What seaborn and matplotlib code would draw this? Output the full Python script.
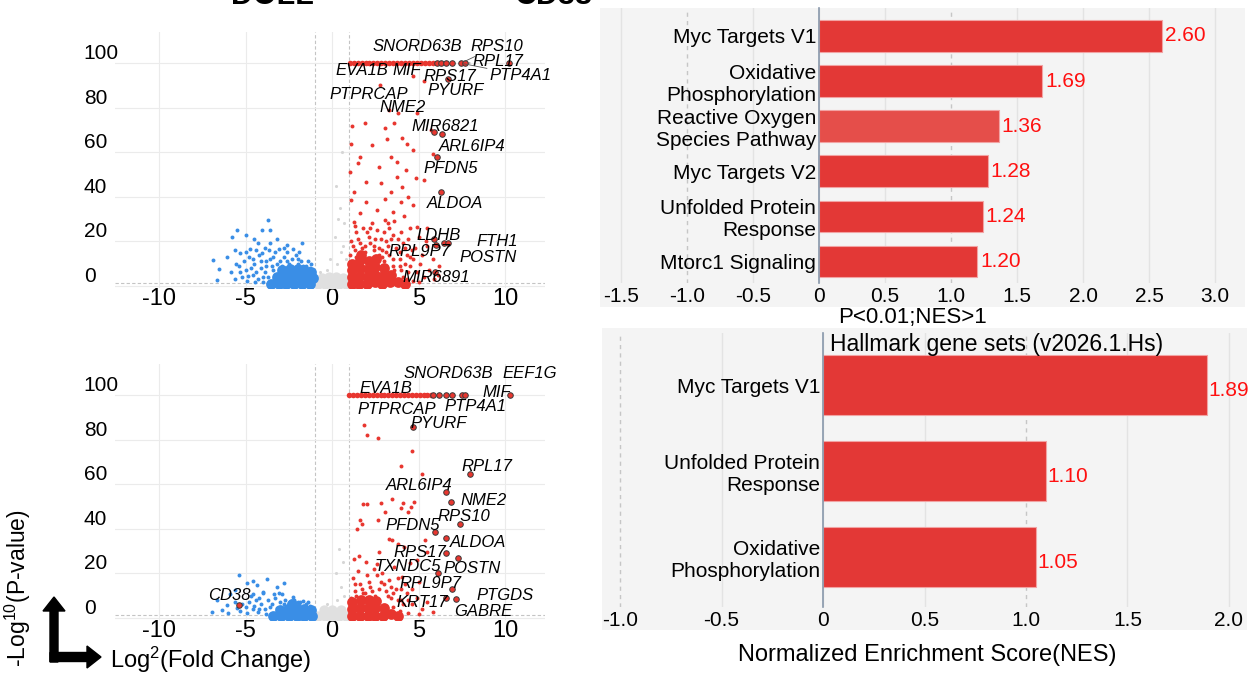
import numpy as np
import pandas as pd
import seaborn as sns
import matplotlib.pyplot as plt
from matplotlib.patches import Rectangle, FancyArrow

W, H = 1248, 675

# ---------------- volcano, upper panel ----------------
t_line_x = [1.02, 1.24, 1.47, 1.7, 1.93, 2.15, 2.38, 2.6, 2.84, 3.06, 3.3, 3.52, 3.75, 3.98,
            4.2, 4.44, 4.66, 4.9, 5.12, 5.35, 5.58, 5.8]
t_line_y = [100, 100, 100, 100, 100, 100, 100, 100, 100, 100, 100, 100, 100, 100,
            100, 100, 100, 100, 100, 100, 100, 100]

t_upcore_x = [1.15, 1.15, 1.15, 1.15, 1.55, 1.6, 1.6, 1.6, 1.65, 2.0, 2.05, 2.05, 2.1, 2.45,
              2.5, 2.5, 2.55, 2.9, 2.95, 3.0, 3.35, 3.4, 3.8, 4.2]
t_upcore_y = [1.0, 4.0, 7.0, 10.0, 1.0, 4.5, 8.0, 11.5, 14.0, 1.0, 4.0, 7.5, 11.0, 1.5,
              5.0, 8.5, 12.0, 1.0, 4.5, 8.0, 1.5, 5.0, 1.5, 1.0]

t_up_x = [2.77, 4.7, 5.3, 4.9, 3.8, 3.27, 1.16, 1.9, 3.04, 3.6, 5.7, 1.08, 2.28, 3.15, 4.05,
          4.34, 4.7, 5.8, 1.6, 3.4, 1.49, 2.7, 4.27, 3.73, 1.04, 1.93, 2.82, 4.82, 5.3, 3.73,
          1.26, 3.38, 4.05, 4.38, 1.07, 1.96, 3.04, 3.96, 4.7, 1.6, 2.6, 3.5, 4.15, 1.26, 3.04,
          4.93, 5.5,
          1.3, 1.6, 1.9, 2.1, 2.4, 2.6, 2.9, 3.1, 3.3, 3.5, 3.7, 3.9, 4.1, 4.3, 4.5, 4.7, 4.9,
          5.1, 5.3, 5.6, 5.9, 6.2, 1.1, 1.4, 1.8, 2.3, 2.8, 3.3, 3.6, 4.0, 4.4, 4.8, 5.2, 5.5,
          5.8, 6.1, 1.05, 2.0, 2.5, 3.0, 3.5, 4.0, 4.3, 4.7, 5.0, 3.8, 3.3, 2.9,
          1.2, 1.5, 1.7, 2.0, 2.2, 2.5, 2.7, 3.0, 3.2, 3.4, 3.8, 4.2, 4.6, 1.4, 1.9, 2.4, 2.7,
          3.1, 3.5, 3.9, 4.2, 4.5, 3.6, 3.9, 4.1, 4.4, 1.3, 2.2, 3.2, 4.5, 5.0, 5.4]
t_up_y = [90.1, 94.2, 91.9, 77.5, 77.5, 78.9, 71.7, 73.0, 70.8, 73.0, 69.9, 63.6, 63.1, 65.8,
          66.3, 63.6, 60.9, 59.1, 57.8, 57.8, 55.0, 53.3, 51.9, 55.5, 51.0, 46.5, 46.1, 48.3,
          47.4, 48.8, 42.0, 42.0, 44.3, 39.8, 38.4, 37.5, 38.9, 37.5, 36.2, 32.6, 33.9, 33.0,
          31.2, 28.5, 29.4, 26.3, 25.8,
          16, 19, 15, 22, 18, 25, 16, 20, 14, 23, 17, 12, 19, 14, 9, 12, 6, 10, 4, 7, 3, 9,
          20, 24, 26, 28, 21, 26, 29, 24, 21, 17, 14, 18, 12, 5, 14, 12, 13, 11, 9, 7, 3, 2,
          1.5, 2, 5, 13,
          18, 21, 17, 24, 19, 21, 17, 24, 18, 21, 21, 17, 16, 13, 18, 16, 14,
          15, 12, 15, 10, 13, 7, 9, 4, 6, 27, 26, 28, 26, 22, 20]

t_dncore_x = [-3.55, -3.1, -2.65, -2.2, -1.75, -1.3, -1.1, -3.2, -2.75, -2.3, -1.85, -1.4,
              -2.9, -2.45, -2.0, -1.6, -1.2]
t_dncore_y = [1.0, 1.0, 1.0, 1.0, 1.0, 1.0, 3.5, 4.0, 4.5, 4.5, 4.5, 4.0, 7.0, 7.5, 7.5, 7.0, 6.0]

t_dn_x = [-3.72, -5.5, -4.05, -3.6, -5.81, -4.97, -4.52, -3.18, -2.63, -1.73, -6.87, -6.53,
          -6.07, -5.63, -5.3, -4.75, -4.08, -3.64, -3.07, -2.29, -6.65, -5.85, -5.58,
          -4.9, -4.6, -4.3, -4.1, -3.9, -3.8, -4.5, -5.0, -5.2, -4.8, -4.2, -3.5, -3.4, -3.0,
          -2.8, -2.5, -2.3, -2.0, -1.8, -1.5, -1.3, -3.7, -4.0, -3.3, -2.6, -2.1, -5.4, -5.1,
          -4.4, -3.9,
          -5.6, -5.3, -4.7, -4.4, -4.0, -3.8, -3.6, -3.2, -2.9, -2.6, -2.4, -2.0, -1.7, -1.4,
          -1.2, -4.6, -4.1, -3.4, -5.0, -2.8, -3.6, -4.3, -1.9, -4.85, -4.45]
t_dn_y = [29.7, 25.2, 24.9, 24.9, 21.9, 22.7, 21.2, 21.2, 18.2, 19.2, 11.8, 7.7, 12.9, 16.0,
          14.5, 16.7, 14.5, 16.0, 16.7, 16.7, 2.5, 6.2, 10.0,
          2, 5, 3, 8, 6, 11, 10, 7, 4, 13, 14, 9, 13, 11, 13, 10, 12, 10, 11, 9, 8, 4, 1.5,
          15, 15, 14, 9, 11, 16, 17,
          3, 6, 8, 6, 4, 9, 12, 10, 9, 11, 8, 12, 9, 11, 10, 12, 11, 7, 15, 17, 19, 19, 15,
          4.5, 1.5]

t_nscore_x = [-0.8, -0.4, 0.0, 0.4, 0.8, -0.6, -0.2, 0.2, 0.6]
t_nscore_y = [1.0, 1.0, 1.0, 1.0, 1.0, 3.5, 4.0, 4.0, 3.5]
t_ns_x = [0.3, 0.5, 0.15, 0.7, 0.45, 0.6, -0.3, -0.7, 0.8, 0.2, 0.55, -0.1, 0.35]
t_ns_y = [10, 15, 22, 28, 35, 18, 7, 6, 12, 45, 60, 12, 30]

t_hl_x = [6.05, 6.3, 6.6, 6.9, 7.44, 7.69, 10.2, 6.7, 5.86, 6.34, 6.05, 6.3, 6.47, 6.72,
          6.0, 5.97, 5.86]
t_hl_y = [100, 100, 100, 100, 100, 100, 100, 92.7, 69.0, 68.4, 57.9, 42.2, 19.2, 19.2,
          18.2, 6.2, 21.2]

t_genes = ["SNORD63B", "RPS10", "RPL17", "EVA1B", "MIF", "RPS17", "PTP4A1", "PYURF",
           "PTPRCAP", "NME2", "MIR6821", "ARL6IP4", "PFDN5", "ALDOA", "LDHB", "FTH1",
           "RPL9P7", "POSTN", "MIR6891"]
t_gene_x = [4.9, 9.5, 9.6, 1.71, 4.3, 6.8, 10.9, 7.13, 2.14, 4.05, 6.53, 8.07, 6.86, 7.09,
            6.18, 9.54, 5.07, 9.04, 6.03]
t_gene_y = [107.6, 107.6, 100.6, 96.5, 96.5, 93.8, 94.6, 87.9, 86.1, 80.1, 71.7, 62.7, 52.5,
            36.9, 22.7, 20.1, 15.5, 12.9, 3.7]
# (gene index, highlighted point index)
t_leaders = [(1, 4), (2, 5), (6, 4)]

# ---------------- volcano, lower panel ----------------
b_line_x = [1.0, 1.22, 1.45, 1.68, 1.9, 2.12, 2.35, 2.58, 2.8, 3.02, 3.25, 3.48, 3.7, 3.93,
            4.15, 4.38, 4.6, 4.83, 5.05, 5.28, 5.5, 5.72]
b_line_y = [100, 100, 100, 100, 100, 100, 100, 100, 100, 100, 100, 100, 100, 100,
            100, 100, 100, 100, 100, 100, 100, 100]

b_upcore_x = [1.15, 1.15, 1.15, 1.6, 1.6, 1.65, 2.05, 2.05, 2.1, 2.5, 2.5, 2.55, 2.95, 3.0,
              3.4, 3.8]
b_upcore_y = [1.0, 4.0, 7.0, 1.0, 4.5, 8.0, 1.0, 4.5, 8.0, 1.0, 4.5, 7.5, 1.0, 4.5, 1.5, 1.0]

b_up_x = [1.82, 2.04, 2.64, 4.64, 3.98, 5.2, 1.78, 2.04, 2.82, 3.44, 4.07, 4.71, 3.96, 4.55,
          4.38, 3.04, 1.6, 1.44, 1.7, 2.64, 3.27, 3.44, 3.82, 4.15, 5.38, 4.93, 1.26, 1.53,
          1.93, 2.7, 4.49, 5.49, 4.05,
          1.3, 1.6, 1.9, 2.2, 2.5, 2.8, 3.1, 3.4, 3.7, 4.0, 4.3, 4.6, 4.9, 5.2, 5.5, 5.8,
          1.2, 1.5, 2.0, 2.4, 2.9, 3.3, 3.8, 4.2, 4.6, 5.0, 3.6, 2.6, 1.1, 3.9, 4.4, 5.0, 3.5,
          1.3, 1.7, 2.1, 2.3, 2.7, 3.0, 3.2, 3.5, 3.8, 4.1, 4.4, 4.0, 1.4, 1.8, 2.6, 3.4]
b_up_y = [86.8, 82.0, 80.8, 75.0, 68.1, 64.8, 51.3, 51.0, 51.6, 53.3, 51.6, 52.0, 49.1, 49.8,
          47.6, 47.6, 43.8, 40.1, 42.3, 44.1, 35.6, 34.8, 33.3, 31.8, 35.1, 25.8, 26.6, 27.6,
          25.1, 29.6, 24.4, 29.6, 18.3,
          12, 15, 11, 14, 10, 16, 12, 9, 13, 8, 11, 6, 9, 4, 7, 2.5,
          18, 21, 19, 22, 20, 17, 18, 15, 13, 16, 23, 24, 9, 3, 2, 1.5, 5,
          15, 13, 16, 12, 13, 15, 10, 11, 8, 6, 8, 13, 10, 11, 19, 14]

b_dncore_x = [-3.4, -2.95, -2.5, -2.05, -1.6, -1.15, -3.0, -2.55, -2.1, -1.65, -1.2, -2.3]
b_dncore_y = [1.0, 1.0, 1.0, 1.0, 1.0, 1.0, 3.5, 4.0, 4.0, 4.0, 3.5, 6.0]

b_dn_x = [-5.36, -4.58, -4.93, -4.35, -3.77, -3.2, -2.81, -5.6, -5.9, -6.66, -6.95, -6.38,
          -6.09, -4.55, -3.97, -3.39, -2.24, -1.85,
          -4.9, -4.6, -4.3, -4.1, -3.9, -3.7, -4.4, -5.0, -5.3, -3.5, -3.3, -3.0, -2.7, -2.5,
          -2.2, -1.9, -1.5, -1.3, -3.8, -4.7, -4.0, -2.9, -5.6, -6.0,
          -5.2, -4.8, -4.5, -4.2, -3.6, -3.2, -2.8, -2.4, -2.0, -1.7, -3.1, -4.2, -5.5, -1.4]
b_dn_y = [19.1, 16.5, 15.4, 14.6, 17.6, 13.8, 15.4, 12.4, 10.9, 7.9, 2.6, 3.4, 5.6, 10.9,
          11.6, 10.9, 9.3, 7.1,
          2, 4, 2.5, 6, 4, 8, 8, 5, 3, 6, 9, 7, 8, 6.5, 8, 6, 6, 5.5, 1.5, 10, 11, 10.5, 7, 2,
          6, 7, 5.5, 4, 5, 4.5, 6, 7.5, 7, 7.5, 11, 9, 4.5, 7]

b_nscore_x = [-0.8, -0.4, 0.0, 0.4, 0.8, -0.5, 0.0, 0.5]
b_nscore_y = [1.0, 1.0, 1.0, 1.0, 1.0, 3.5, 3.5, 3.5]
b_ns_x = [0.3, 0.5, 0.2, 0.6, 0.4, -0.3, 0.7]
b_ns_y = [8, 14, 20, 25, 31, 6, 10]

b_hl_x = [5.8, 6.2, 6.6, 6.9, 7.5, 7.7, 10.3, 4.7, 7.95, 6.55, 6.86, 7.37, 5.97, 6.6, 6.55,
          7.3, 6.1, 6.95, 7.17, 6.6, -5.4]
b_hl_y = [100, 100, 100, 100, 100, 100, 100, 85.8, 64.8, 56.5, 51.8, 42.0, 38.6, 36.0, 28.9,
          27.0, 20.1, 13.1, 8.6, 9.0, 5.6]

b_genes = ["SNORD63B", "EEF1G", "EVA1B", "MIF", "PTPRCAP", "PTP4A1", "PYURF", "RPL17",
           "ARL6IP4", "NME2", "RPS10", "PFDN5", "ALDOA", "RPS17", "TXNDC5", "POSTN", "RPL9P7",
           "PTGDS", "KRT17", "GABRE", "CD38"]
b_gene_x = [6.71, 11.4, 3.09, 9.5, 3.74, 8.27, 6.15, 8.96, 5.04, 8.74, 7.62, 4.66, 8.45, 5.07,
            4.38, 8.07, 5.66, 10.0, 5.18, 8.76, -5.96]
b_gene_y = [109.8, 109.8, 103.0, 101.2, 93.7, 95.0, 87.3, 67.8, 59.2, 52.5, 45.6, 41.6, 33.6,
            29.1, 23.1, 22.1, 15.4, 10.1, 6.7, 2.6, 10.1]
b_leaders = []

# ---------------- GSEA bars ----------------
top_sets = ["Myc Targets V1", "Oxidative\nPhosphorylation", "Reactive Oxygen\nSpecies Pathway",
            "Myc Targets V2", "Unfolded Protein\nResponse", "Mtorc1 Signaling"]
top_nes = [2.60, 1.69, 1.36, 1.28, 1.24, 1.20]
bot_sets = ["Myc Targets V1", "Unfolded Protein\nResponse", "Oxidative\nPhosphorylation"]
bot_nes = [1.89, 1.10, 1.05]

top_ticks = [-1.5, -1.0, -0.5, 0, 0.5, 1.0, 1.5, 2.0, 2.5, 3.0]
top_ticklabels = ["-1.5", "-1.0", "-0.5", "0", "0.5", "1.0", "1.5", "2.0", "2.5", "3.0"]
bot_ticks = [-1.0, -0.5, 0, 0.5, 1.0, 1.5, 2.0]
bot_ticklabels = ["-1.0", "-0.5", "0", "0.5", "1.0", "1.5", "2.0"]

RED = '#e8362f'
BLUE = '#3a8ee6'
GREY = '#e0e0e0'
BAR = '#e33836'
BAR_LIGHT = '#e54e4a'

plt.rcParams['font.family'] = ['Liberation Sans', 'DejaVu Sans']
plt.rcParams['mathtext.fontset'] = 'custom'
plt.rcParams['mathtext.rm'] = 'Liberation Sans'
plt.rcParams['mathtext.it'] = 'Liberation Sans:italic'


def box(l, t, r, b):
    return [l / W, 1 - b / H, (r - l) / W, (b - t) / H]


def volcano(ax, d):
    sns.scatterplot(x=d['nscore'][0], y=d['nscore'][1], ax=ax, color=GREY, s=55,
                    linewidth=0, zorder=1, legend=False)
    sns.scatterplot(x=d['ns'][0], y=d['ns'][1], ax=ax, color='#d6d6d6', s=5,
                    linewidth=0, zorder=1, legend=False)
    sns.scatterplot(x=d['dncore'][0], y=d['dncore'][1], ax=ax, color=BLUE, s=60,
                    linewidth=0, zorder=2, legend=False)
    sns.scatterplot(x=d['dn'][0], y=d['dn'][1], ax=ax, color=BLUE, s=8,
                    linewidth=0, zorder=2, legend=False)
    sns.scatterplot(x=d['upcore'][0], y=d['upcore'][1], ax=ax, color=RED, s=60,
                    linewidth=0, zorder=2, legend=False)
    sns.scatterplot(x=d['up'][0], y=d['up'][1], ax=ax, color=RED, s=8,
                    linewidth=0, zorder=2, legend=False)
    sns.scatterplot(x=d['line'][0], y=d['line'][1], ax=ax, color=RED, s=16,
                    linewidth=0, zorder=3, legend=False)
    sns.scatterplot(x=d['hl'][0], y=d['hl'][1], ax=ax, color=RED, s=16,
                    edgecolor='#3a3a3a', linewidth=0.7, zorder=4, legend=False)

    leaders = dict(d['leaders'])
    for i, name in enumerate(d['genes']):
        if i in leaders:
            j = leaders[i]
            ax.annotate(name, xy=(d['hl'][0][j], d['hl'][1][j]),
                        xytext=(d['gx'][i], d['gy'][i]), textcoords='data',
                        fontsize=12, style='italic', ha='center', va='center', zorder=6,
                        arrowprops=dict(arrowstyle='-', color='#555555', lw=0.6,
                                        shrinkA=0, shrinkB=2))
        else:
            ax.text(d['gx'][i], d['gy'][i], name, fontsize=12, style='italic',
                    ha='center', va='center', zorder=6)

    ax.set_xlim(-12.55, 12.3)
    ax.set_ylim(-1, 114)
    ax.set_facecolor('white')
    for s in ax.spines.values():
        s.set_visible(False)
    ax.grid(True, color='#ebebeb', lw=0.8)
    ax.set_axisbelow(True)
    for v in (-1, 1):
        ax.axvline(v, color='#c4c4c4', ls=(0, (3, 2)), lw=0.8, zorder=0.5)
    ax.axhline(1.3, color='#c4c4c4', ls=(0, (3, 2)), lw=0.8, zorder=0.5)
    ax.set_xticks([-10, -5, 0, 5, 10])
    ax.set_xticklabels(["-10", "-5", "0", "5", "10"], fontsize=17)
    ax.set_yticks([0, 20, 40, 60, 80, 100])
    ax.set_yticklabels(["0", "20", "40", "60", "80", "100"], fontsize=15)
    ax.tick_params(axis='both', length=0)
    ax.tick_params(axis='y', pad=22.5)
    ax.tick_params(axis='x', pad=0)
    for lab in ax.get_yticklabels():
        lab.set_ha('left')
        lab.set_va('bottom')
    ax.set_xlabel('')
    ax.set_ylabel('')


def gsea(ax, sets, nes, ticks, ticklabels, xlim, ylim, colors, offset):
    sns.barplot(x=nes, y=sets, hue=sets, palette=colors, legend=False, orient='h',
                width=0.7, saturation=1, ax=ax, edgecolor='#f2a3a3', linewidth=0.8, zorder=2)
    ax.set_facecolor('none')
    ax.set_xlim(*xlim)
    ax.set_ylim(*ylim)
    ax.set_xticks(ticks)
    ax.set_xticklabels(ticklabels, fontsize=15)
    ax.tick_params(axis='both', length=0)
    ax.tick_params(axis='x', pad=3)
    ax.tick_params(axis='y', pad=2, labelsize=15)
    ax.grid(axis='x', color='#e3e3e3', lw=1)
    ax.grid(axis='y', visible=False)
    ax.set_axisbelow(True)
    for tk, v in zip(ax.xaxis.get_major_ticks(), ticks):
        if abs(v) == 1.0:
            tk.gridline.set_linestyle((0, (3, 3)))
            tk.gridline.set_color('#c6c6c6')
    for k in ('top', 'right', 'bottom'):
        ax.spines[k].set_visible(False)
    ax.spines['left'].set_position(('data', 0))
    ax.spines['left'].set_color('#8898ab')
    ax.spines['left'].set_linewidth(1.2)
    ax.spines['left'].set_zorder(3)
    for cont in ax.containers:
        anns = ax.bar_label(cont, fmt='%.2f', padding=2, color='#ff1010', fontsize=15)
        for a in anns:
            a.xyann = offset
    ax.set_xlabel('')
    ax.set_ylabel('')


fig = plt.figure(figsize=(W / 100, H / 100), dpi=100)
fig.patch.set_facecolor('white')

# panel titles, cropped at the very top as in the source figure
fig.text(272 / W, 1 - 3.5 / H, 'DOLL', fontsize=22, fontweight='bold', ha='center',
         va='baseline', zorder=-2)
fig.text(554 / W, 1 - 3.5 / H, 'CD38', fontsize=22, fontweight='bold', ha='center',
         va='baseline', zorder=-2)

# grey panels behind the bar charts
fig.add_artist(Rectangle((600 / W, 1 - 307 / H), 645 / W, 299 / H, transform=fig.transFigure,
                         facecolor='#f4f4f4', edgecolor='none', zorder=-1))
fig.add_artist(Rectangle((602 / W, 1 - 630 / H), 645 / W, 302 / H, transform=fig.transFigure,
                         facecolor='#f4f4f4', edgecolor='none', zorder=-1))

ax1 = fig.add_axes(box(115, 32, 545, 288))
volcano(ax1, dict(nscore=(t_nscore_x, t_nscore_y), ns=(t_ns_x, t_ns_y),
                  dncore=(t_dncore_x, t_dncore_y), dn=(t_dn_x, t_dn_y),
                  upcore=(t_upcore_x, t_upcore_y), up=(t_up_x, t_up_y),
                  line=(t_line_x, t_line_y), hl=(t_hl_x, t_hl_y),
                  genes=t_genes, gx=t_gene_x, gy=t_gene_y, leaders=t_leaders))

ax2 = fig.add_axes(box(115, 364, 545, 620))
volcano(ax2, dict(nscore=(b_nscore_x, b_nscore_y), ns=(b_ns_x, b_ns_y),
                  dncore=(b_dncore_x, b_dncore_y), dn=(b_dn_x, b_dn_y),
                  upcore=(b_upcore_x, b_upcore_y), up=(b_up_x, b_up_y),
                  line=(b_line_x, b_line_y), hl=(b_hl_x, b_hl_y),
                  genes=b_genes, gx=b_gene_x, gy=b_gene_y, leaders=b_leaders))

ax3 = fig.add_axes(box(600, 8, 1245, 283))
gsea(ax3, top_sets, top_nes, top_ticks, top_ticklabels, (-1.659, 3.227), (5.48, -0.62),
     [BAR, BAR, BAR_LIGHT, BAR, BAR, BAR], (2, 0))

ax4 = fig.add_axes(box(602, 333, 1247, 607))
gsea(ax4, bot_sets, bot_nes, bot_ticks, bot_ticklabels, (-1.089, 2.089), (2.58, -0.61),
     [BAR, BAR, BAR], (1, -4))

# overlay in pixel coordinates for free text and the axis arrows
ov = fig.add_axes([0, 0, 1, 1], zorder=10)
ov.set_xlim(0, W)
ov.set_ylim(H, 0)
ov.axis('off')
ov.patch.set_alpha(0)

ov.text(912, 317, 'P<0.01;NES>1', fontsize=16, ha='center', va='center')
ov.text(830, 345, 'Hallmark gene sets (v2026.1.Hs)', fontsize=16.5, ha='left', va='center')
ov.text(927, 655, 'Normalized Enrichment Score(NES)', fontsize=17, ha='center', va='center')
ov.text(211, 660, r'Log$^{2}$(Fold Change)', fontsize=17, ha='center', va='center')
ov.text(18, 588, r'-Log$^{10}$(P-value)', fontsize=16.5, ha='center', va='center', rotation=90)

ov.add_patch(FancyArrow(54, 662, 0, -65, width=8, head_width=22, head_length=14,
                        length_includes_head=True, color='black'))
ov.add_patch(FancyArrow(50, 657, 51, 0, width=9, head_width=22, head_length=14,
                        length_includes_head=True, color='black'))

fig.savefig('out.png', dpi=100)
